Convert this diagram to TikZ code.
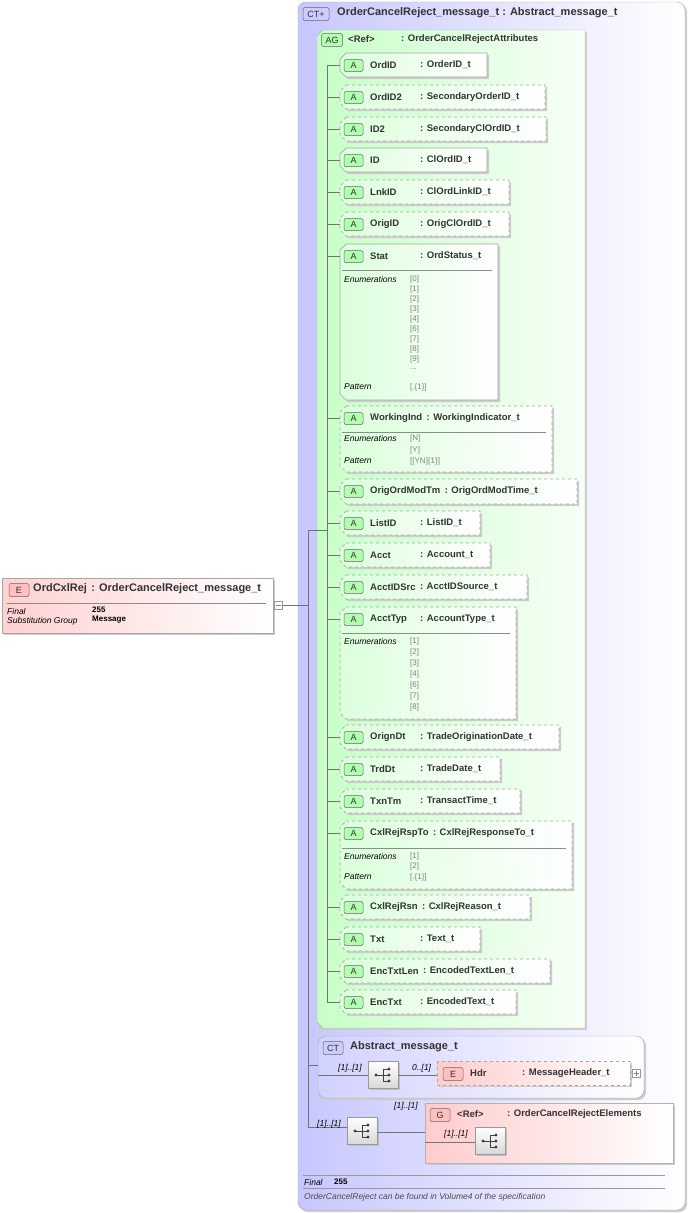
\documentclass[tikz,border=0pt]{standalone}
\usepackage{fontspec}
\setmainfont{Liberation Sans}
\usetikzlibrary{calc}
\begin{document}
\begin{tikzpicture}[x=1pt,y=-1pt,
 nm/.style={font=\bfseries\fontsize{9.5}{10}\selectfont,inner sep=0pt,anchor=west,text=black!80},
 tt/.style={font=\bfseries\fontsize{11}{12}\selectfont,inner sep=0pt,anchor=west,text=black!80},
 sm/.style={font=\itshape\fontsize{8.5}{9}\selectfont,inner sep=0pt,anchor=west},
 val/.style={font=\fontsize{8}{9}\selectfont,inner sep=0pt,anchor=west,text=black!50},
 bv/.style={font=\bfseries\fontsize{8}{9}\selectfont,inner sep=0pt,anchor=west,text=black},
 bx/.style={draw=black!35,line width=0.7pt},
 ln/.style={draw=black!55,line width=0.5pt},
 badge/.style={draw=black!60,rounded corners=2pt,line width=0.5pt,font=\fontsize{9}{10}\selectfont,inner sep=0pt,minimum height=13pt,text=black!80}]
\useasboundingbox (0,0) rectangle (688,1213);
% outer CT
\fill[black!20,rounded corners=8pt] (300,4) rectangle (687,1212);
\shade[left color=blue!22,right color=white,rounded corners=8pt,draw=black!35] (298,2) rectangle (685,1210);
\node[badge,fill=blue!20,minimum width=26pt] (ctb) at (316,14) {CT+};
\node[tt] (ctt) at (337,13) {OrderCancelReject\_message\_t : Abstract\_message\_t};
% AG
\fill[black!20] (319,32) rectangle (587,1030);
\shade[left color=green!22,right color=green!3,draw=black!30] (323,30) -- (585,30) -- (585,1028) -- (323,1028) -- (317,1022) -- (317,36) -- cycle;
\node[badge,fill=green!30,minimum width=21pt] (agb) at (332,40) {AG};
\node[nm] (agt) at (348,39) {<Ref>};
\node[nm] (agt2) at (401,39) {: OrderCancelRejectAttributes};
% tree lines
\coordinate (v1) at (327,65); \coordinate (v2) at (327,1002);
\draw[ln] (v1) -- (v2);
\coordinate (t1) at (308,530); \coordinate (t2) at (308,1127);
\draw[ln] (t1) -- (t2);
\coordinate (t3) at (327,530);
\draw[ln] (t1) -- (t3);
% attribute boxes
\newcommand\attrbox[8]{%
 \fill[black!20] (348,{#4+2}) -- ({#6+2},{#4+2}) -- ({#6+2},{#5+2}) -- (348,{#5+2}) -- (342,{#5-4}) -- (342,{#4+8}) -- cycle;
 \shade[left color=green!14,right color=white,bx,#7] (346,#4) -- (#6,#4) -- (#6,#5) -- (346,#5) -- (340,{#5-6}) -- (340,{#4+6}) -- cycle;
 \draw[ln] (327,{#4+12}) -- (340,{#4+12});
 \node[badge,fill=green!30,minimum width=19pt,minimum height=12pt] (#1b) at (353.5,{#4+12.5}) {A};
 \node[nm] (#1n) at (370,{#4+12}) {#2};
 \path let \p1=(#1n.east) in node[nm] (#1t) at ({max(#8,\x1+4)},{#4+12}) {: #3};
}
\attrbox{a1}{OrdID}{OrderID\_t}{53}{77}{487}{solid}{420}
\attrbox{a2}{OrdID2}{SecondaryOrderID\_t}{85}{109}{545}{dashed}{420}
\attrbox{a3}{ID2}{SecondaryClOrdID\_t}{117}{141}{546}{dashed}{420}
\attrbox{a4}{ID}{ClOrdID\_t}{148}{172}{487}{solid}{420}
\attrbox{a5}{LnkID}{ClOrdLinkID\_t}{180}{204}{509}{dashed}{420}
\attrbox{a6}{OrigID}{OrigClOrdID\_t}{212}{236}{509}{dashed}{420}
\attrbox{a7}{Stat}{OrdStatus\_t}{244}{400}{498}{solid}{420}
\attrbox{a8}{WorkingInd}{WorkingIndicator\_t}{406}{472}{552}{dashed}{400}
\attrbox{a9}{OrigOrdModTm}{OrigOrdModTime\_t}{479}{504}{577}{dashed}{400}
\attrbox{a10}{ListID}{ListID\_t}{511}{535}{480}{dashed}{420}
\attrbox{a11}{Acct}{Account\_t}{543}{567}{490}{dashed}{420}
\attrbox{a12}{AcctIDSrc}{AcctIDSource\_t}{575}{599}{527}{dashed}{400}
\attrbox{a13}{AcctTyp}{AccountType\_t}{607}{719}{516}{dashed}{420}
\attrbox{a14}{OrignDt}{TradeOriginationDate\_t}{725}{749}{559}{dashed}{420}
\attrbox{a15}{TrdDt}{TradeDate\_t}{757}{781}{500}{dashed}{420}
\attrbox{a16}{TxnTm}{TransactTime\_t}{789}{813}{520}{dashed}{420}
\attrbox{a17}{CxlRejRspTo}{CxlRejResponseTo\_t}{821}{889}{572}{dashed}{400}
\attrbox{a18}{CxlRejRsn}{CxlRejReason\_t}{895}{919}{530}{dashed}{400}
\attrbox{a19}{Txt}{Text\_t}{927}{951}{480}{dashed}{420}
\attrbox{a20}{EncTxtLen}{EncodedTextLen\_t}{959}{983}{550}{dashed}{400}
\attrbox{a21}{EncTxt}{EncodedText\_t}{990}{1014}{516}{dashed}{420}
% enumerations
\draw[black!45] (342,270) -- (492,270);
\node[sm] (e7) at (344,279) {Enumerations};
\foreach \v [count=\i from 0] in {0,1,2,3,4,6,7,8,9}
  \node[val] (e7v\i) at (410,{279+\i*10}) {[\v]};
\node[val] (e7dots) at (410,369) {...};
\node[sm] (p7) at (344,387) {Pattern};
\node[val] (p7v) at (410,387) {[.\{1\}]};
\draw[black!45] (342,432) -- (546,432);
\node[sm] (e8) at (344,438) {Enumerations};
\node[val] (e8v0) at (410,438) {[N]};
\node[val] (e8v1) at (410,450) {[Y]};
\node[sm] (p8) at (344,461) {Pattern};
\node[val] (p8v) at (410,461) {[[YN]\{1\}]};
\draw[black!45] (342,633) -- (510,633);
\node[sm] (e13) at (344,641) {Enumerations};
\foreach \v [count=\i from 0] in {1,2,3,4,6,7,8}
  \node[val] (e13v\i) at (410,{641+\i*11}) {[\v]};
\draw[black!45] (342,848) -- (566,848);
\node[sm] (e17) at (344,856) {Enumerations};
\node[val] (e17v0) at (410,856) {[1]};
\node[val] (e17v1) at (410,866) {[2]};
\node[sm] (p17) at (344,877) {Pattern};
\node[val] (p17v) at (410,877) {[.\{1\}]};
% seq icon
\newcommand\seqicon[3]{%
 \fill[black!25] ({#2-13},{#3-12}) rectangle ({#2+17},{#3+15});
 \shade[top color=white,bottom color=black!15,draw=black!40] ({#2-15},{#3-14}) rectangle ({#2+15},{#3+13});
 \coordinate (#1) at (#2,#3);
 \fill[black!75] ({#2-7},#3) circle (1.6pt);
 \draw[black!75,line width=0.6pt] ({#2-7},#3) -- ({#2},#3) ({#2},{#3-6}) -- ({#2},{#3+6}) ({#2},{#3-6}) -- ({#2+6},{#3-6}) ({#2},#3) -- ({#2+6},#3) ({#2},{#3+6}) -- ({#2+6},{#3+6});
 \fill[black!75] ({#2+6},{#3-6}) circle (1.6pt) ({#2+6},{#3}) circle (1.6pt) ({#2+6},{#3+6}) circle (1.6pt);
}
% Abstract CT
\fill[black!20,rounded corners=8pt] (320,1038) rectangle (646,1100);
\shade[left color=blue!18,right color=white,rounded corners=8pt,draw=black!35] (318,1036) rectangle (644,1098);
\draw[ln] (308,1065) -- (318,1065);
\node[badge,fill=blue!20,minimum width=20pt] (ct2b) at (333,1048) {CT};
\node[tt] (ct2t) at (350,1047) {Abstract\_message\_t};
\seqicon{s1}{383}{1075}
\draw[ln] (318,1075) -- (368,1075);
\node[sm] (m1) at (338,1068) {[1]..[1]};
\fill[black!20] (439,1063) rectangle (632,1087);
\shade[left color=red!20,right color=white,bx,dashed] (437,1061) rectangle (630,1085);
\draw[ln] (398,1075) -- (437,1075);
\node[sm] (m2) at (412,1068) {0..[1]};
\node[badge,fill=red!25,minimum width=20pt] (hb) at (453,1074) {E};
\node[nm] (hn) at (470,1073) {Hdr};
\node[nm] (ht) at (522,1073) {: MessageHeader\_t};
\draw[black!40,fill=white] (632,1069) rectangle (640,1077);
\draw[black!50] (633.5,1073) -- (638.5,1073) (636,1070.5) -- (636,1075.5);
% bottom sequence and group
\seqicon{s2}{362}{1131}
\draw[ln] (308,1127) -- (347,1127);
\node[sm] (m3) at (317,1124) {[1]..[1]};
\fill[black!20] (427,1105) rectangle (675,1165);
\shade[left color=red!20,right color=white,draw=black!30] (425,1103) rectangle (673,1163);
\draw[ln] (377,1132) -- (425,1132);
\node[sm] (m4) at (394,1106) {[1]..[1]};
\node[badge,fill=red!25,minimum width=20pt] (gb) at (440,1115) {G};
\node[nm] (gn) at (457,1114) {<Ref>};
\node[nm] (gt) at (507,1114) {: OrderCancelRejectElements};
\seqicon{s3}{490}{1141}
\draw[ln] (425,1142) -- (475,1142);
\node[sm] (m5) at (444,1134) {[1]..[1]};
% footer
\draw[black!40] (303,1175) -- (665,1175);
\node[sm] (ff) at (304,1182) {Final};
\node[bv] (fv) at (334,1182) {255};
\draw[black!40] (303,1188) -- (665,1188);
\node[sm,text=black!70] (note) at (304,1197) {OrderCancelReject can be found in Volume4 of the specification};
% left element
\fill[black!20] (4,580) rectangle (275,635);
\shade[left color=red!18,right color=white,draw=black!35] (2,578) rectangle (273,633);
\node[badge,fill=red!25,minimum width=20pt] (eb) at (19,590) {E};
\node[tt] (en) at (33,589) {OrdCxlRej};
\path let \p1=(en.east) in node[tt] (et) at ({\x1+4},589) {: OrderCancelReject\_message\_t};
\draw[black!45] (7,603) -- (266,603);
\node[sm] (ef) at (7,611) {Final};
\node[bv] (efv) at (92,610) {255};
\node[sm] (es) at (7,621) {Substitution Group};
\node[bv] (esv) at (92,620) {Message};
\draw[black!40,fill=white] (274,601) rectangle (282,609);
\draw[black!50] (275.5,605) -- (280.5,605);
\draw[ln] (282,605) -- (308,605);
\end{tikzpicture}
\end{document}
